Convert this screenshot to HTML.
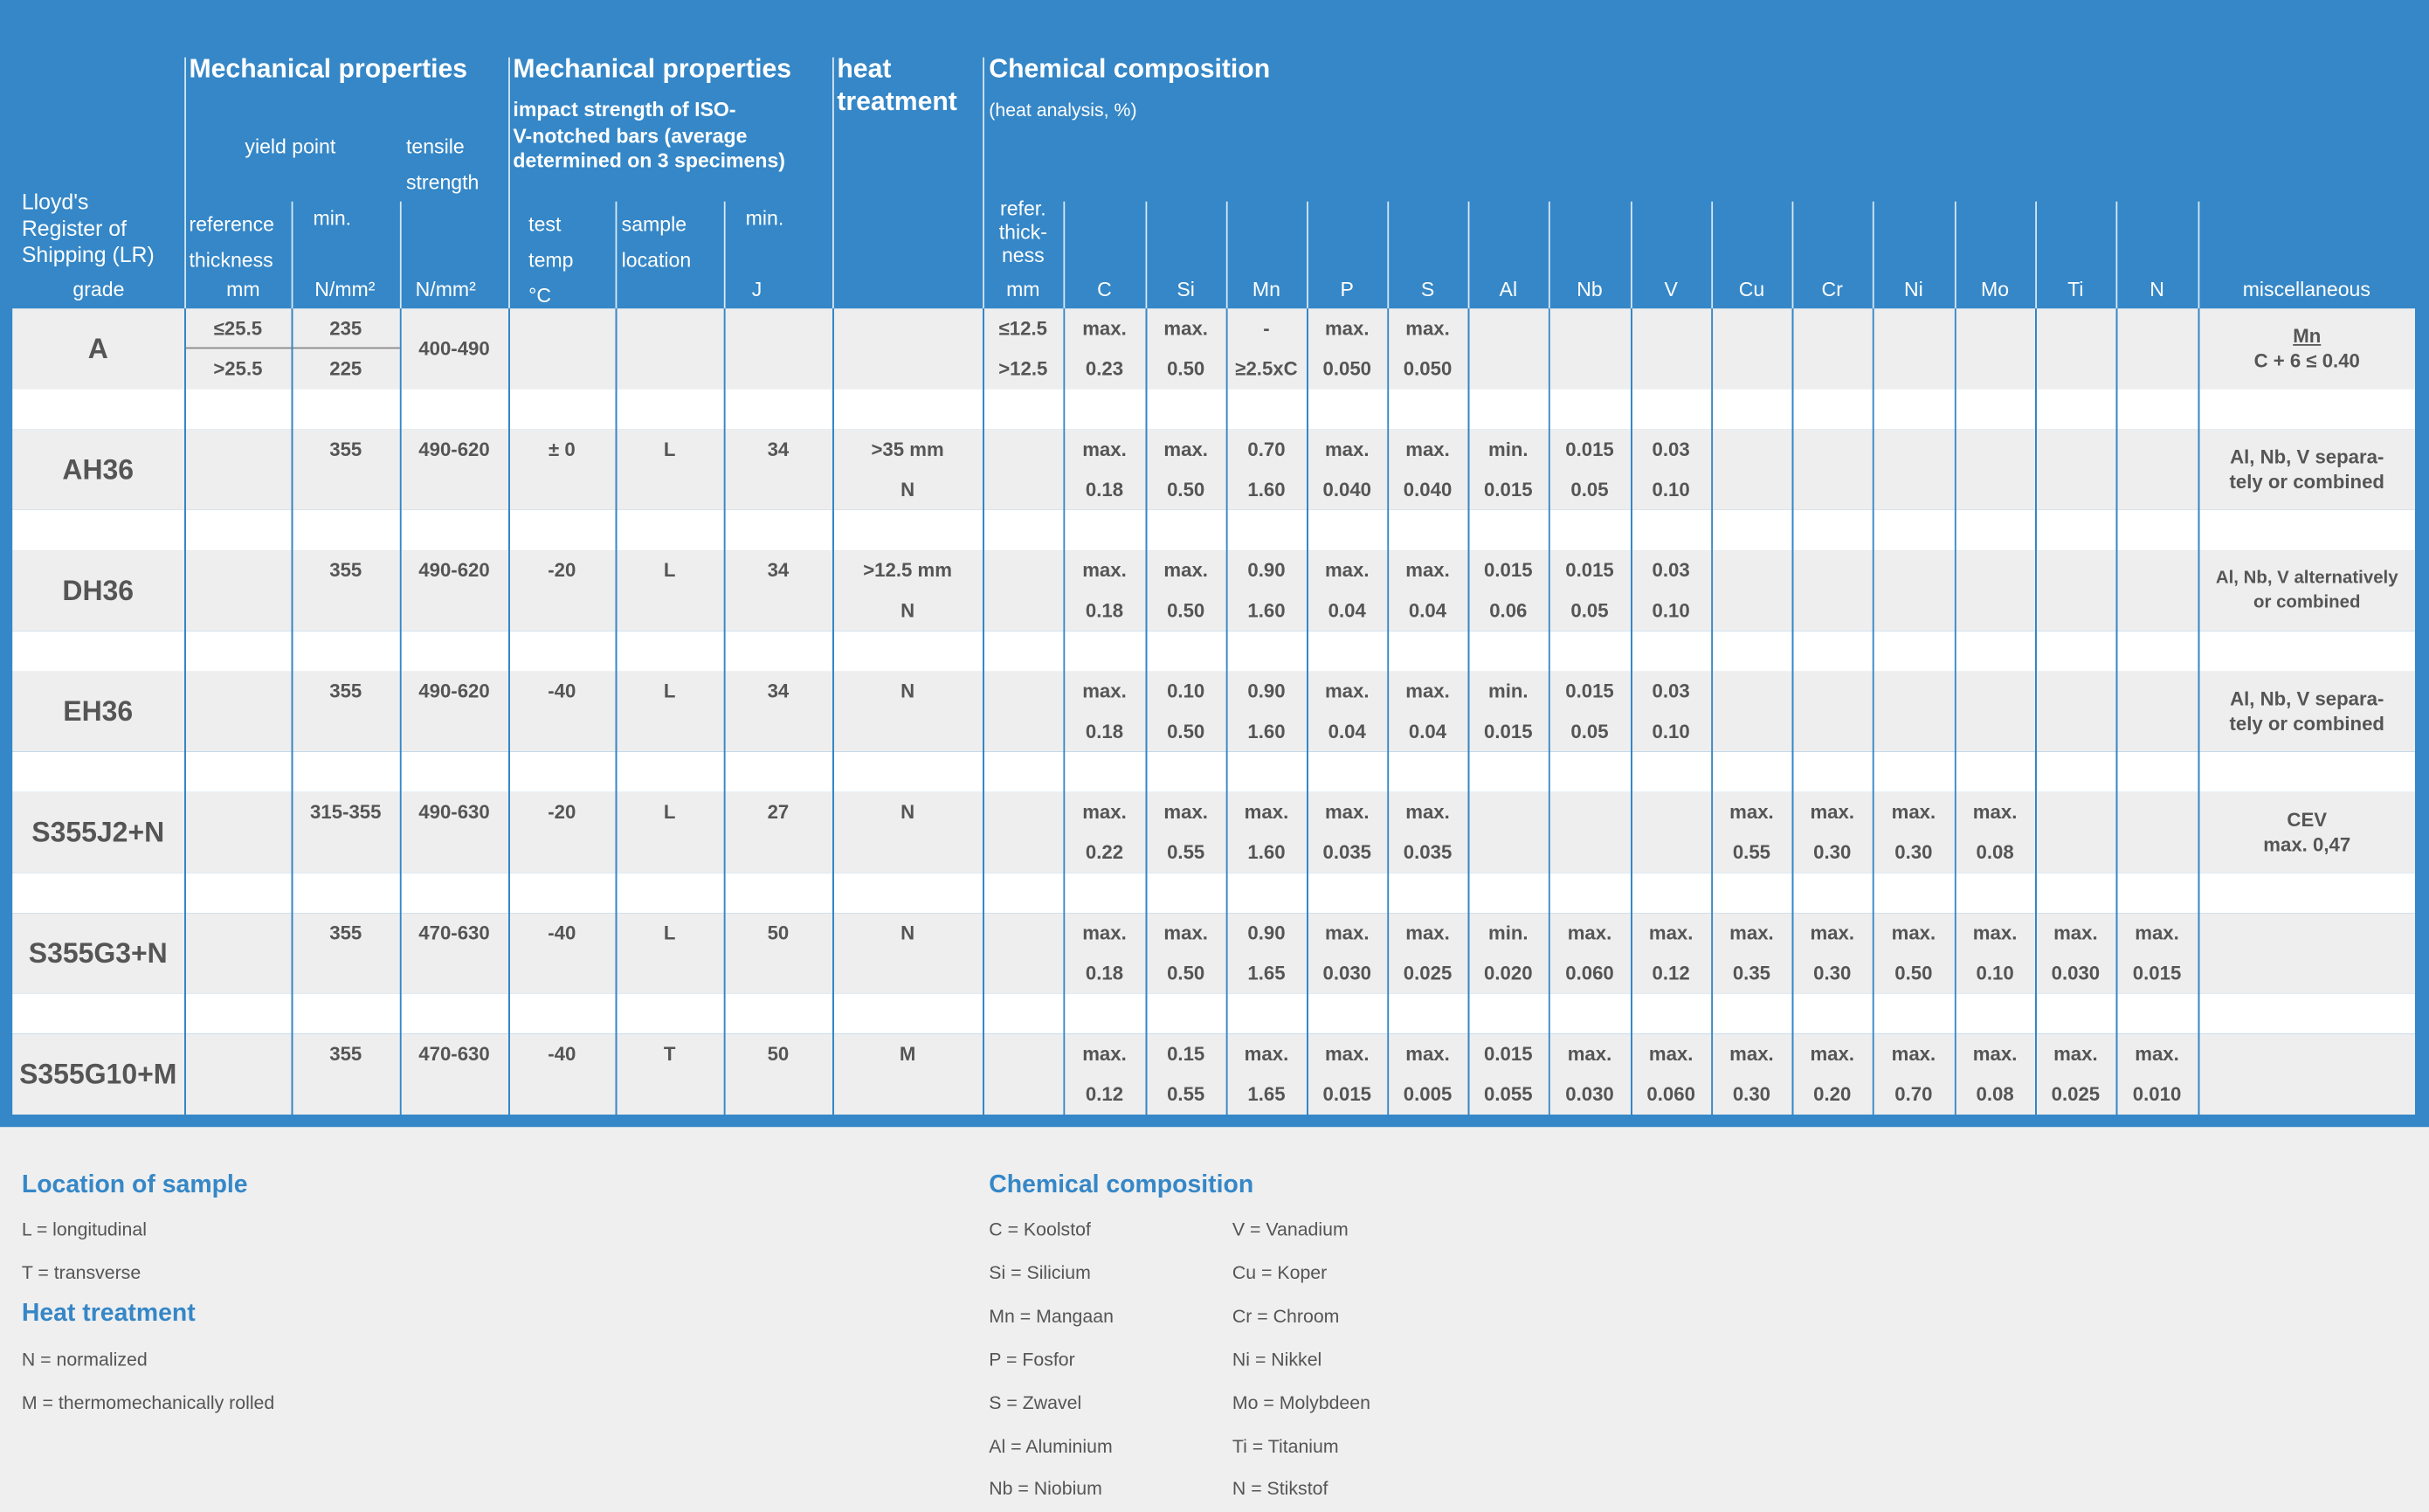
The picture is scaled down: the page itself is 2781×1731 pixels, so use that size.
<!DOCTYPE html>
<html><head><meta charset="utf-8">
<style>
html,body{margin:0;padding:0;width:2781px;height:1717px;overflow:hidden;background:#efefef;}
#w{position:absolute;left:0;top:0;width:1567px;height:968px;transform:scale(1.77473);transform-origin:0 0;font-family:"Liberation Sans",sans-serif;}
#blue{position:absolute;left:0;top:0;width:1567px;height:727px;background:#3587c7;}
.a{position:absolute;white-space:nowrap;}
.h{color:#fff;font-size:13px;}
.t{color:#fff;font-size:18px;font-weight:bold;}
.vl{position:absolute;width:1px;background:#d8e8f6;}
table{position:absolute;left:8px;top:199px;width:1550px;border-collapse:collapse;table-layout:fixed;}
td{padding:0;border-left:1px solid #3587c7;text-align:center;color:#555;font-weight:bold;font-size:12.5px;line-height:26px;vertical-align:top;white-space:nowrap;overflow:hidden;}
tr.d td{background:#eeeeee;height:52px;}
tr.g td{background:#fff;height:26px;}
td.gr{font-size:18px;vertical-align:middle;border-left:none;}
td.m{vertical-align:middle;line-height:16px;}
.lg{color:#555;font-size:12px;}
.lt{color:#3587c7;font-size:16px;font-weight:bold;}
</style></head><body><div id="w">
<div id="blue"></div>
<div class="vl" style="left:119px;top:37px;height:162px"></div>
<div class="vl" style="left:328px;top:37px;height:162px"></div>
<div class="vl" style="left:537px;top:37px;height:162px"></div>
<div class="vl" style="left:634px;top:37px;height:162px"></div>
<div class="vl" style="left:188px;top:130px;height:69px"></div>
<div class="vl" style="left:258px;top:130px;height:69px"></div>
<div class="vl" style="left:397px;top:130px;height:69px"></div>
<div class="vl" style="left:467px;top:130px;height:69px"></div>
<div class="vl" style="left:686px;top:130px;height:69px"></div>
<div class="vl" style="left:739px;top:130px;height:69px"></div>
<div class="vl" style="left:791px;top:130px;height:69px"></div>
<div class="vl" style="left:843px;top:130px;height:69px"></div>
<div class="vl" style="left:895px;top:130px;height:69px"></div>
<div class="vl" style="left:947px;top:130px;height:69px"></div>
<div class="vl" style="left:999px;top:130px;height:69px"></div>
<div class="vl" style="left:1052px;top:130px;height:69px"></div>
<div class="vl" style="left:1104px;top:130px;height:69px"></div>
<div class="vl" style="left:1156px;top:130px;height:69px"></div>
<div class="vl" style="left:1208px;top:130px;height:69px"></div>
<div class="vl" style="left:1261px;top:130px;height:69px"></div>
<div class="vl" style="left:1313px;top:130px;height:69px"></div>
<div class="vl" style="left:1365px;top:130px;height:69px"></div>
<div class="vl" style="left:1418px;top:130px;height:69px"></div>
<div class="a t" style="left:122px;top:35px;font-size:17px">Mechanical properties</div>
<div class="a t" style="left:331px;top:35px;font-size:17px">Mechanical properties</div>
<div class="a t" style="left:540px;top:35px;font-size:17px">heat</div>
<div class="a t" style="left:540px;top:56px;font-size:17px">treatment</div>
<div class="a t" style="left:638px;top:35px;font-size:17px">Chemical composition</div>
<div class="a h" style="left:331px;top:63px;font-weight:bold;font-size:13px;line-height:16.5px">impact strength of ISO-<br>V-notched bars (average<br>determined on 3 specimens)</div>
<div class="a h" style="left:638px;top:64px;font-size:12px">(heat analysis, %)</div>
<div class="a h" style="left:158px;top:87px">yield point</div>
<div class="a h" style="left:262px;top:87px">tensile</div>
<div class="a h" style="left:262px;top:110px">strength</div>
<div class="a h" style="left:14px;top:122px;font-size:14px;line-height:17px">Lloyd's<br>Register of<br>Shipping (LR)</div>
<div class="a h" style="left:47px;top:179px">grade</div>
<div class="a h" style="left:122px;top:133px;line-height:23px">reference<br>thickness</div>
<div class="a h" style="left:146px;top:179px">mm</div>
<div class="a h" style="left:202px;top:133px">min.</div>
<div class="a h" style="left:203px;top:179px">N/mm²</div>
<div class="a h" style="left:268px;top:179px">N/mm²</div>
<div class="a h" style="left:341px;top:133px;line-height:23px">test<br>temp<br>°C</div>
<div class="a h" style="left:401px;top:133px;line-height:23px">sample<br>location</div>
<div class="a h" style="left:481px;top:133px">min.</div>
<div class="a h" style="left:485px;top:179px">J</div>
<div class="a h" style="left:634px;top:127px;width:52px;text-align:center;line-height:15px">refer.<br>thick-<br>ness</div>
<div class="a h" style="left:634px;top:179px;width:52px;text-align:center">mm</div>
<div class="a h" style="left:686px;top:179px;width:53px;text-align:center">C</div>
<div class="a h" style="left:739px;top:179px;width:52px;text-align:center">Si</div>
<div class="a h" style="left:791px;top:179px;width:52px;text-align:center">Mn</div>
<div class="a h" style="left:843px;top:179px;width:52px;text-align:center">P</div>
<div class="a h" style="left:895px;top:179px;width:52px;text-align:center">S</div>
<div class="a h" style="left:947px;top:179px;width:52px;text-align:center">Al</div>
<div class="a h" style="left:999px;top:179px;width:53px;text-align:center">Nb</div>
<div class="a h" style="left:1052px;top:179px;width:52px;text-align:center">V</div>
<div class="a h" style="left:1104px;top:179px;width:52px;text-align:center">Cu</div>
<div class="a h" style="left:1156px;top:179px;width:52px;text-align:center">Cr</div>
<div class="a h" style="left:1208px;top:179px;width:53px;text-align:center">Ni</div>
<div class="a h" style="left:1261px;top:179px;width:52px;text-align:center">Mo</div>
<div class="a h" style="left:1313px;top:179px;width:52px;text-align:center">Ti</div>
<div class="a h" style="left:1365px;top:179px;width:53px;text-align:center">N</div>
<div class="a h" style="left:1418px;top:179px;width:140px;text-align:center">miscellaneous</div>

<table>
<colgroup><col style="width:111px"><col style="width:69px"><col style="width:70px"><col style="width:70px"><col style="width:69px"><col style="width:70px"><col style="width:70px"><col style="width:97px"><col style="width:52px"><col style="width:53px"><col style="width:52px"><col style="width:52px"><col style="width:52px"><col style="width:52px"><col style="width:52px"><col style="width:53px"><col style="width:52px"><col style="width:52px"><col style="width:52px"><col style="width:53px"><col style="width:52px"><col style="width:52px"><col style="width:53px"><col style="width:140px"></colgroup>
<tr class="d"><td class="gr">A</td><td><div style="height:25px;border-bottom:1px solid #888">≤25.5</div><div>&gt;25.5</div></td><td><div style="height:25px;border-bottom:1px solid #888">235</div><div>225</div></td><td class="m">400-490</td><td></td><td></td><td></td><td></td><td>≤12.5<br>&gt;12.5</td><td>max.<br>0.23</td><td>max.<br>0.50</td><td>-<br>≥2.5xC</td><td>max.<br>0.050</td><td>max.<br>0.050</td><td></td><td></td><td></td><td></td><td></td><td></td><td></td><td></td><td></td><td class="m"><u>Mn</u><br>C + 6 ≤ 0.40</td></tr>
<tr class="g"><td style="border-left:none"></td><td></td><td></td><td></td><td></td><td></td><td></td><td></td><td></td><td></td><td></td><td></td><td></td><td></td><td></td><td></td><td></td><td></td><td></td><td></td><td></td><td></td><td></td><td></td></tr>
<tr class="d"><td class="gr">AH36</td><td></td><td>355</td><td>490-620</td><td>± 0</td><td>L</td><td>34</td><td>&gt;35 mm<br>N</td><td></td><td>max.<br>0.18</td><td>max.<br>0.50</td><td>0.70<br>1.60</td><td>max.<br>0.040</td><td>max.<br>0.040</td><td>min.<br>0.015</td><td>0.015<br>0.05</td><td>0.03<br>0.10</td><td></td><td></td><td></td><td></td><td></td><td></td><td class="m">Al, Nb, V separa-<br>tely or combined</td></tr>
<tr class="g"><td style="border-left:none"></td><td></td><td></td><td></td><td></td><td></td><td></td><td></td><td></td><td></td><td></td><td></td><td></td><td></td><td></td><td></td><td></td><td></td><td></td><td></td><td></td><td></td><td></td><td></td></tr>
<tr class="d"><td class="gr">DH36</td><td></td><td>355</td><td>490-620</td><td>-20</td><td>L</td><td>34</td><td>&gt;12.5 mm<br>N</td><td></td><td>max.<br>0.18</td><td>max.<br>0.50</td><td>0.90<br>1.60</td><td>max.<br>0.04</td><td>max.<br>0.04</td><td>0.015<br>0.06</td><td>0.015<br>0.05</td><td>0.03<br>0.10</td><td></td><td></td><td></td><td></td><td></td><td></td><td class="m" style="font-size:11.5px">Al, Nb, V alternatively<br>or combined</td></tr>
<tr class="g"><td style="border-left:none"></td><td></td><td></td><td></td><td></td><td></td><td></td><td></td><td></td><td></td><td></td><td></td><td></td><td></td><td></td><td></td><td></td><td></td><td></td><td></td><td></td><td></td><td></td><td></td></tr>
<tr class="d"><td class="gr">EH36</td><td></td><td>355</td><td>490-620</td><td>-40</td><td>L</td><td>34</td><td>N</td><td></td><td>max.<br>0.18</td><td>0.10<br>0.50</td><td>0.90<br>1.60</td><td>max.<br>0.04</td><td>max.<br>0.04</td><td>min.<br>0.015</td><td>0.015<br>0.05</td><td>0.03<br>0.10</td><td></td><td></td><td></td><td></td><td></td><td></td><td class="m">Al, Nb, V separa-<br>tely or combined</td></tr>
<tr class="g"><td style="border-left:none"></td><td></td><td></td><td></td><td></td><td></td><td></td><td></td><td></td><td></td><td></td><td></td><td></td><td></td><td></td><td></td><td></td><td></td><td></td><td></td><td></td><td></td><td></td><td></td></tr>
<tr class="d"><td class="gr">S355J2+N</td><td></td><td>315-355</td><td>490-630</td><td>-20</td><td>L</td><td>27</td><td>N</td><td></td><td>max.<br>0.22</td><td>max.<br>0.55</td><td>max.<br>1.60</td><td>max.<br>0.035</td><td>max.<br>0.035</td><td></td><td></td><td></td><td>max.<br>0.55</td><td>max.<br>0.30</td><td>max.<br>0.30</td><td>max.<br>0.08</td><td></td><td></td><td class="m">CEV<br>max. 0,47</td></tr>
<tr class="g"><td style="border-left:none"></td><td></td><td></td><td></td><td></td><td></td><td></td><td></td><td></td><td></td><td></td><td></td><td></td><td></td><td></td><td></td><td></td><td></td><td></td><td></td><td></td><td></td><td></td><td></td></tr>
<tr class="d"><td class="gr">S355G3+N</td><td></td><td>355</td><td>470-630</td><td>-40</td><td>L</td><td>50</td><td>N</td><td></td><td>max.<br>0.18</td><td>max.<br>0.50</td><td>0.90<br>1.65</td><td>max.<br>0.030</td><td>max.<br>0.025</td><td>min.<br>0.020</td><td>max.<br>0.060</td><td>max.<br>0.12</td><td>max.<br>0.35</td><td>max.<br>0.30</td><td>max.<br>0.50</td><td>max.<br>0.10</td><td>max.<br>0.030</td><td>max.<br>0.015</td><td></td></tr>
<tr class="g"><td style="border-left:none"></td><td></td><td></td><td></td><td></td><td></td><td></td><td></td><td></td><td></td><td></td><td></td><td></td><td></td><td></td><td></td><td></td><td></td><td></td><td></td><td></td><td></td><td></td><td></td></tr>
<tr class="d"><td class="gr" style="height:50px">S355G10+M</td><td></td><td>355</td><td>470-630</td><td>-40</td><td>T</td><td>50</td><td>M</td><td></td><td>max.<br>0.12</td><td>0.15<br>0.55</td><td>max.<br>1.65</td><td>max.<br>0.015</td><td>max.<br>0.005</td><td>0.015<br>0.055</td><td>max.<br>0.030</td><td>max.<br>0.060</td><td>max.<br>0.30</td><td>max.<br>0.20</td><td>max.<br>0.70</td><td>max.<br>0.08</td><td>max.<br>0.025</td><td>max.<br>0.010</td><td></td></tr>
</table>

<div class="a lt" style="left:14px;top:756px">Location of sample</div>
<div class="a lg" style="left:14px;top:786px">L = longitudinal</div>
<div class="a lg" style="left:14px;top:814px">T = transverse</div>
<div class="a lt" style="left:14px;top:839px">Heat treatment</div>
<div class="a lg" style="left:14px;top:870px">N = normalized</div>
<div class="a lg" style="left:14px;top:898px">M = thermomechanically rolled</div>
<div class="a lt" style="left:638px;top:756px">Chemical composition</div>
<div class="a lg" style="left:638px;top:780px;line-height:27.9px">C = Koolstof<br>Si = Silicium<br>Mn = Mangaan<br>P = Fosfor<br>S = Zwavel<br>Al = Aluminium<br>Nb = Niobium</div>
<div class="a lg" style="left:795px;top:780px;line-height:27.9px">V = Vanadium<br>Cu = Koper<br>Cr = Chroom<br>Ni = Nikkel<br>Mo = Molybdeen<br>Ti = Titanium<br>N = Stikstof</div>
</div></body></html>
